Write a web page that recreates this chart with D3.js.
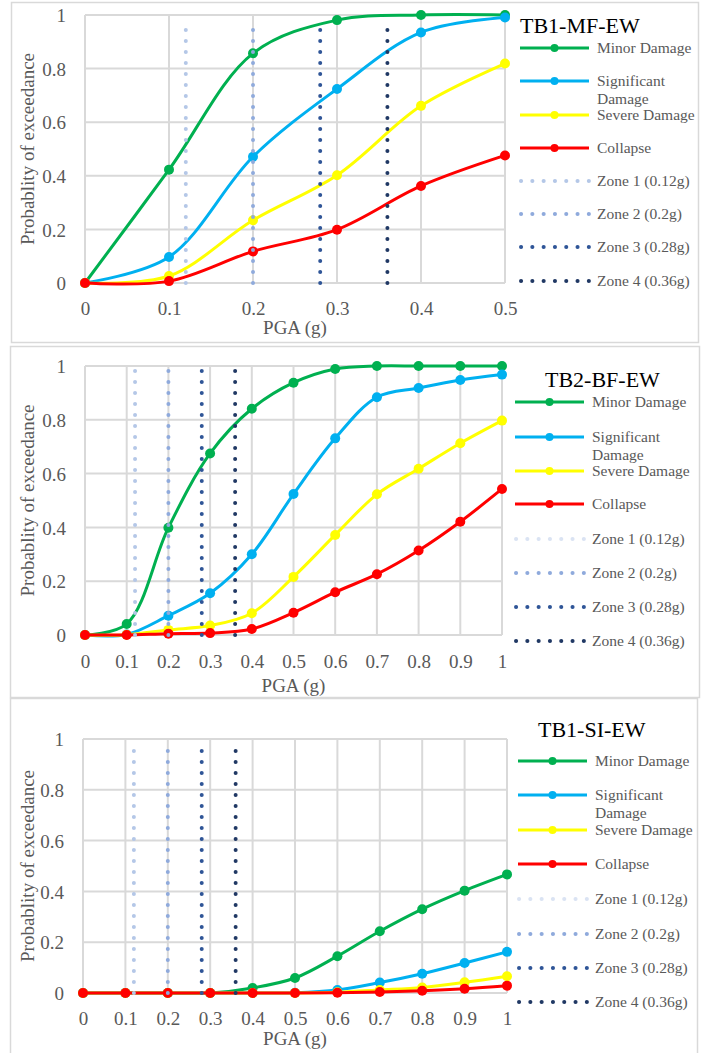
<!DOCTYPE html>
<html>
<head>
<meta charset="utf-8">
<title>Fragility curves</title>
<script src="https://d3js.org/d3.v7.min.js"></script>
<style>
  body { margin: 0; background: #fff; }
  svg { display: block; }
  text { font-family: "Liberation Serif", "Times New Roman", serif; }
</style>
</head>
<body>
<div id="chart"></div>
<script>
// ---- data ----
var pgaShort = [0, 0.1, 0.2, 0.3, 0.4, 0.5];
var pgaLong = [0, 0.1, 0.2, 0.3, 0.4, 0.5, 0.6, 0.7, 0.8, 0.9, 1];
var yTicks = [0, 0.2, 0.4, 0.6, 0.8, 1];
var seriesNames = ["Minor Damage", "Significant Damage", "Severe Damage", "Collapse"];
var zoneNames = ["Zone 1 (0.12g)", "Zone 2 (0.2g)", "Zone 3 (0.28g)", "Zone 4 (0.36g)"];
var zonePGA = [0.12, 0.2, 0.28, 0.36];

// TB1-MF-EW
var mfMinor = [0, 0.423, 0.857, 0.981, 1.0, 1.0];
var mfSignificant = [0, 0.097, 0.471, 0.724, 0.935, 0.991];
var mfSevere = [0, 0.026, 0.234, 0.402, 0.661, 0.819];
var mfCollapse = [0, 0.007, 0.118, 0.199, 0.362, 0.476];

// TB2-BF-EW
var bfMinor = [0, 0.041, 0.399, 0.675, 0.841, 0.938, 0.989, 1.0, 1.0, 1.0, 1.0];
var bfSignificant = [0, 0.002, 0.072, 0.155, 0.300, 0.524, 0.731, 0.884, 0.918, 0.948, 0.968];
var bfSevere = [0, 0.001, 0.019, 0.035, 0.081, 0.216, 0.372, 0.523, 0.618, 0.713, 0.797];
var bfCollapse = [0, 0, 0.005, 0.007, 0.022, 0.083, 0.159, 0.226, 0.314, 0.421, 0.543];

// TB1-SI-EW
var siMinor = [0, 0, 0, 0, 0.02, 0.059, 0.145, 0.243, 0.330, 0.403, 0.467];
var siSignificant = [0, 0, 0, 0, 0, 0.001, 0.012, 0.041, 0.076, 0.118, 0.162];
var siSevere = [0, 0, 0, 0, 0, 0, 0.003, 0.012, 0.022, 0.042, 0.066];
var siCollapse = [0, 0, 0, 0, 0, 0, 0.001, 0.004, 0.009, 0.017, 0.029];

// ---- styles ----
var seriesColors = ["#00b050", "#00b0f0", "#ffff00", "#ff0000"];
var zoneColors = ["#b4c7e7", "#8faadc", "#2f5597", "#203864"];
var gray = "#595959";
var gridColor = "#d9d9d9";

var panels = [
  { title: "TB1-MF-EW", x: pgaShort, xMax: 0.5, series: [mfMinor, mfSignificant, mfSevere, mfCollapse],
    frame: [11.5, 2.5, 687, 340], plot: [85, 15, 505, 283], tickBase: 32, titleBase: 51,
    legend: { x: 520, titleX: 520, titleY: 33, rows: [48, 81, 115, 148, 181, 214, 247, 281] },
    zoneLegend1: "#b4c7e7" },
  { title: "TB2-BF-EW", x: pgaLong, xMax: 1, series: [bfMinor, bfSignificant, bfSevere, bfCollapse],
    frame: [10.5, 346.5, 689, 351], plot: [85, 366, 502, 635], tickBase: 33, titleBase: 57,
    legend: { x: 515, titleX: 545, titleY: 387, rows: [402, 437, 471, 504, 539, 573, 607, 641] },
    zoneLegend1: "#dae3f3" },
  { title: "TB1-SI-EW", x: pgaLong, xMax: 1, series: [siMinor, siSignificant, siSevere, siCollapse],
    frame: [10.5, 698.5, 687, 360], plot: [83, 739, 507, 993], tickBase: 32, titleBase: 52,
    legend: { x: 518, titleX: 538, titleY: 737, rows: [761, 795, 830, 864, 899, 934, 968, 1002] },
    zoneLegend1: "#dae3f3" }
];

var svg = d3.select("#chart").append("svg")
  .attr("width", 703)
  .attr("height", 1053);

svg.append("rect").attr("width", 703).attr("height", 1053).attr("fill", "#fff");

panels.forEach(function(p) {
  var g = svg.append("g");
  var x0 = p.plot[0], y0 = p.plot[1], x1 = p.plot[2], y1 = p.plot[3];

  g.append("rect")
    .attr("x", p.frame[0]).attr("y", p.frame[1])
    .attr("width", p.frame[2]).attr("height", p.frame[3])
    .attr("fill", "#fff").attr("stroke", gridColor).attr("stroke-width", 1.5);

  var x = d3.scaleLinear().domain([0, p.xMax]).range([x0, x1]);
  var y = d3.scaleLinear().domain([0, 1]).range([y1, y0]);

  // gridlines
  g.append("g").selectAll("line.h").data(yTicks).enter().append("line")
    .attr("x1", x0).attr("x2", x1)
    .attr("y1", function(d) { return y(d); }).attr("y2", function(d) { return y(d); })
    .attr("stroke", gridColor).attr("stroke-width", 2);
  g.append("g").selectAll("line.v").data(p.x).enter().append("line")
    .attr("y1", y0).attr("y2", y1)
    .attr("x1", function(d) { return x(d); }).attr("x2", function(d) { return x(d); })
    .attr("stroke", gridColor).attr("stroke-width", 2);

  // axes (labels only)
  var xAxis = g.append("g")
    .attr("transform", "translate(0," + y1 + ")")
    .call(d3.axisBottom(x).tickValues(p.x).tickSize(0).tickPadding(p.tickBase).tickFormat(d3.format("~g")));
  var yAxis = g.append("g")
    .attr("transform", "translate(" + x0 + ",0)")
    .call(d3.axisLeft(y).tickValues(yTicks).tickSize(0).tickPadding(19).tickFormat(d3.format("~g")));
  [xAxis, yAxis].forEach(function(a) {
    a.select(".domain").remove();
    a.selectAll("text")
      .style("font-family", "'Liberation Serif', 'Times New Roman', serif")
      .style("font-size", "19px")
      .attr("fill", gray);
  });
  xAxis.selectAll("text").attr("dy", 0);
  yAxis.selectAll("text").attr("dy", "0.35em");

  g.append("text")
    .attr("x", (x0 + x1) / 2).attr("y", y1 + p.titleBase)
    .attr("text-anchor", "middle")
    .attr("fill", gray).style("font-size", "19px")
    .text("PGA (g)");
  g.append("text")
    .attr("transform", "translate(" + 34 + "," + ((y0 + y1) / 2) + ") rotate(-90)")
    .attr("text-anchor", "middle")
    .attr("fill", gray).style("font-size", "19px")
    .text("Probablity of exceedance");

  // damage curves
  var line = d3.line()
    .x(function(d) { return x(d[0]); })
    .y(function(d) { return y(d[1]); })
    .curve(d3.curveCatmullRom.alpha(0.5));

  p.series.forEach(function(vals, i) {
    var pts = p.x.map(function(v, k) { return [v, vals[k]]; });
    g.append("path").datum(pts)
      .attr("d", line)
      .attr("fill", "none")
      .attr("stroke", seriesColors[i])
      .attr("stroke-width", 3);
    g.append("g").selectAll("circle").data(pts).enter().append("circle")
      .attr("cx", function(d) { return x(d[0]); })
      .attr("cy", function(d) { return y(d[1]); })
      .attr("r", 5)
      .attr("fill", seriesColors[i]);
  });

  // zone lines
  zonePGA.forEach(function(z, i) {
    g.append("line")
      .attr("x1", x(z)).attr("x2", x(z))
      .attr("y1", y(0)).attr("y2", y(1) + 5)
      .attr("stroke", zoneColors[i])
      .attr("stroke-width", 4)
      .attr("stroke-linecap", "round")
      .attr("stroke-dasharray", "0.1 10.9");
  });

  // legend
  var L = p.legend;
  g.append("text")
    .attr("x", L.titleX).attr("y", L.titleY)
    .attr("fill", "#000").style("font-size", "22px")
    .text(p.title);

  seriesNames.forEach(function(name, i) {
    var ry = L.rows[i];
    g.append("line")
      .attr("x1", L.x).attr("x2", L.x + 69)
      .attr("y1", ry).attr("y2", ry)
      .attr("stroke", seriesColors[i]).attr("stroke-width", 3);
    g.append("circle")
      .attr("cx", L.x + 34.5).attr("cy", ry).attr("r", 4)
      .attr("fill", seriesColors[i]);
    var t = g.append("text")
      .attr("x", L.x + 77).attr("y", ry + 5)
      .attr("fill", gray).style("font-size", "15.5px");
    if (name === "Significant Damage") {
      t.append("tspan").attr("x", L.x + 77).text("Significant");
      t.append("tspan").attr("x", L.x + 77).attr("dy", 18).text("Damage");
    } else {
      t.text(name);
    }
  });

  zoneNames.forEach(function(name, i) {
    var ry = L.rows[4 + i];
    g.append("line")
      .attr("x1", L.x + 1).attr("x2", L.x + 69)
      .attr("y1", ry).attr("y2", ry)
      .attr("stroke", i === 0 ? p.zoneLegend1 : zoneColors[i])
      .attr("stroke-width", 4)
      .attr("stroke-linecap", "round")
      .attr("stroke-dasharray", "0.1 11.2");
    g.append("text")
      .attr("x", L.x + 77).attr("y", ry + 5)
      .attr("fill", gray).style("font-size", "15.5px")
      .text(name);
  });
});
</script>
</body>
</html>
